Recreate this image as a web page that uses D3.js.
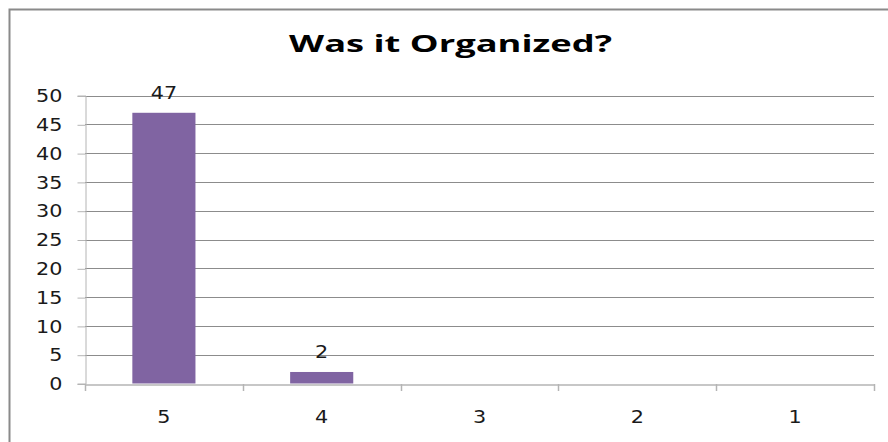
<!DOCTYPE html>
<html><head><meta charset="utf-8">
<script src="https://cdn.jsdelivr.net/npm/d3@7"></script>
<style>body{margin:0;background:#fff}svg{display:block}</style>
</head><body>
<script>
const categories = ["5","4","3","2","1"];
const values = [47, 2, 0, 0, 0];
const yTicks = [0,5,10,15,20,25,30,35,40,45,50];
const title = "Was it Organized?";

const W = 888, H = 442;
const m = {left:85, right:888-874, top:95.5, bottom:442-383.5};
const SX = 1.22;
const svg = d3.select("body").append("svg").attr("width",W).attr("height",H);

svg.append("rect").attr("x",9.5).attr("y",9.5).attr("width",900).attr("height",460)
  .attr("fill","none").attr("stroke","#8a8a8a").attr("stroke-width",2);

const x = d3.scaleBand().domain(categories).range([m.left, W-m.right]).paddingInner(0.6).paddingOuter(0.3);
const xOuter = d3.scaleBand().domain(categories).range([m.left, W-m.right]);
const y = d3.scaleLinear().domain([0,50]).range([H-m.bottom, m.top]);

// gridlines
svg.append("g").selectAll("line").data(yTicks.filter(d=>d>0)).join("line")
  .attr("x1",m.left).attr("x2",W-m.right).attr("y1",d=>Math.round(y(d))+0.5).attr("y2",d=>Math.round(y(d))+0.5)
  .attr("stroke","#8c8c8c").attr("stroke-width",1);

// y axis
const yAxis = svg.append("g").attr("transform",`translate(${m.left+0.5},0)`)
  .call(d3.axisLeft(y).tickValues(yTicks).tickSize(8).tickPadding(14));
yAxis.select(".domain").attr("stroke","#b4b4b4");
yAxis.selectAll(".tick line").attr("stroke","#b4b4b4").attr("transform","translate(0,0.5)");
yAxis.selectAll(".tick text").attr("font-family","DejaVu Sans").attr("font-size",17).attr("fill","#1a1a1a")
  .attr("dy","0.36em");
yAxis.selectAll(".tick text").each(function(){
  const t=d3.select(this); const tx=+t.attr("x");
  t.attr("x",null).attr("transform",`translate(${tx-1},0) scale(${SX},1)`);
});

// bars
svg.append("g").selectAll("rect").data(values).join("rect")
  .attr("x",(d,i)=>x(categories[i])).attr("width",x.bandwidth())
  .attr("y",d=>y(d)).attr("height",d=>y(0)-y(d)).attr("fill","#8064A2");

// x axis
const xAxis = svg.append("g").attr("transform",`translate(0,${Math.round(y(0))+0.5})`)
  .call(d3.axisBottom(xOuter).tickSize(0).tickPadding(26));
xAxis.select(".domain").attr("stroke","#b4b4b4").attr("stroke-width",1.5);
xAxis.selectAll(".tick text").attr("font-family","DejaVu Sans").attr("font-size",17).attr("fill","#1a1a1a")
  .attr("dy","0.71em");
xAxis.selectAll(".tick text").each(function(){
  const t=d3.select(this); const ty=+t.attr("y");
  t.attr("y",null).attr("transform",`translate(0,${ty}) scale(${SX},1)`);
});
// category boundary ticks
const bounds = categories.map(c=>xOuter(c)).concat([W-m.right]);
svg.append("g").selectAll("line").data(bounds).join("line")
  .attr("x1",d=>Math.round(d)+0.5).attr("x2",d=>Math.round(d)+0.5)
  .attr("y1",Math.round(y(0))).attr("y2",Math.round(y(0))+7)
  .attr("stroke","#b4b4b4").attr("stroke-width",1.5);

// data labels
svg.append("g").selectAll("text").data(values.map((v,i)=>({v,c:categories[i]})).filter(d=>d.v>0)).join("text")
  .attr("transform",d=>`translate(${x(d.c)+x.bandwidth()/2},${y(d.v)-14}) scale(${SX},1)`)
  .attr("text-anchor","middle").attr("font-family","DejaVu Sans").attr("font-size",17).attr("fill","#1a1a1a")
  .text(d=>d.v);

// title
const tt = svg.append("text").attr("text-anchor","middle")
  .attr("font-family","Open Sans").attr("font-weight","bold").attr("font-size",24).attr("fill","#000")
  .text(title);
const tl = tt.node().getComputedTextLength() || 230;
tt.attr("transform",`translate(450.5,52) scale(${323/tl},1)`);
</script>
</body></html>
